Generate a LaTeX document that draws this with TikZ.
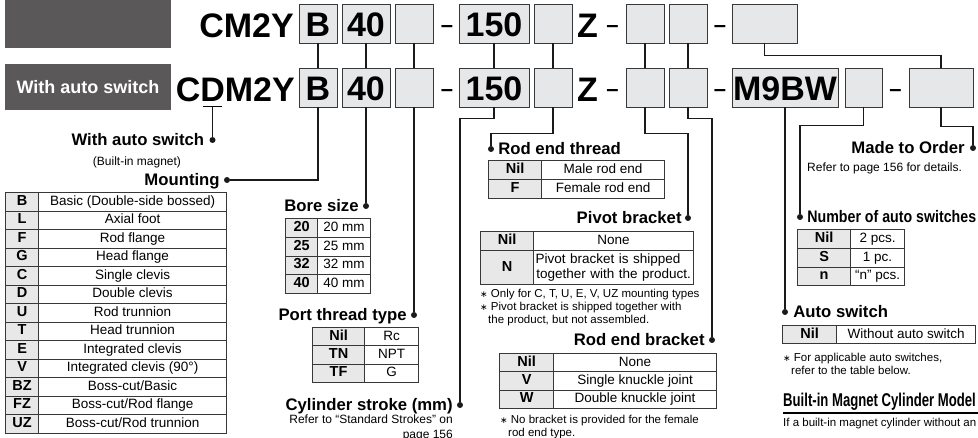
\documentclass[tikz,border=0pt]{standalone}
\usepackage{fontspec}
\setmainfont{Liberation Sans}
\newfontfamily\slimfont[FakeStretch=0.85]{Liberation Sans}
\newfontfamily\slimmerfont[FakeStretch=0.71]{Liberation Sans}
\newfontfamily\dvfont{DejaVu Sans}
\usetikzlibrary{positioning, matrix}
\definecolor{Ink}{HTML}{1A1A1A}
\definecolor{Frame}{HTML}{383838}
\definecolor{BoxFill}{HTML}{E6E7E8}
\definecolor{KeyFill}{HTML}{E8E8E8}
\definecolor{Banner}{HTML}{5A5859}
\newcommand\codefont{\fontsize{34}{36}\selectfont\bfseries}
\newcommand\bannerfont{\fontsize{18}{20}\selectfont\bfseries}
\newcommand\headfont{\fontsize{16.7}{19}\selectfont\bfseries}
\newcommand\modelfont{\fontsize{18.5}{20}\selectfont\bfseries}
\newcommand\keyfont{\fontsize{14.5}{16}\selectfont\bfseries}
\newcommand\cellfont{\fontsize{13.5}{15.5}\selectfont}
\newcommand\sidefont{\fontsize{12}{15}\selectfont}
\newcommand\notefont{\fontsize{11.5}{13}\selectfont}
\newcommand\notemark{{\dvfont\fontsize{9}{9}\selectfont ∗}}
\tikzset{
    banner/.style={fill=Banner, inner sep=0pt, text=white, font=\bannerfont},
    codebox/.style={draw=Frame, fill=BoxFill, line width=0.9pt, inner sep=0pt, minimum height=39pt, font=\codefont, text height=27pt, text depth=0pt},
    codetext/.style={font=\codefont, inner sep=0pt, anchor=base},
    dashmark/.style={font=\fontsize{22}{22}\selectfont\bfseries, inner sep=0pt},
    wire/.style={draw=Ink, line width=1.1pt},
    dot/.style={circle, fill=Ink, inner sep=0pt, minimum size=6pt},
    head/.style={font=\headfont, inner sep=0pt, text height=12pt, text depth=0pt},
    note/.style={font=\notefont, inner sep=0pt, align=left},
    codetable/.style n args={3}{matrix of nodes, inner sep=0pt, row sep=-0.8pt, column sep=-0.8pt,
        nodes={draw=Frame, line width=0.8pt, inner sep=0pt, minimum height=#3, text height=10pt, text depth=3pt, anchor=center},
        column 1/.style={nodes={fill=KeyFill, font=\keyfont, minimum width=#1}},
        column 2/.style={nodes={fill=white, font=\cellfont, minimum width=#2}}},
}

\begin{document}
\begin{tikzpicture}[x=1pt, y=-1pt]
    \useasboundingbox (0,0) rectangle (978,438);
    \clip (0,0) rectangle (978,438);

    % --- Banners ---
    \node[banner, minimum width=166pt, minimum height=48pt] (plain) at (88,24) {};
    \node[banner, minimum width=166pt, minimum height=46pt] (tag) at (88,87) {With auto switch};

    % --- Upper model code ---
    \node[codetext, anchor=base east] (cm2y) at (294,38) {CM2Y};
    \node[codebox, minimum width=38pt] (uB) at (318,23.5) {B};
    \node[codebox, minimum width=48pt] (uBore) at (366,23.5) {40};
    \node[codebox, minimum width=38pt] (uPort) at (414,23.5) {};
    \node[dashmark] (uDashA) at (447,29) {–};
    \node[codebox, minimum width=70pt] (uStroke) at (494,23.5) {150};
    \node[codebox, minimum width=38pt] (uThread) at (553,23.5) {};
    \node[codetext] (uZ) at (587.5,38) {Z};
    \node[dashmark] (uDashB) at (612.5,29) {–};
    \node[codebox, minimum width=38pt] (uPivot) at (645,23.5) {};
    \node[codebox, minimum width=38pt] (uBracket) at (688,23.5) {};
    \node[dashmark] (uDashC) at (720,29) {–};
    \node[codebox, minimum width=65pt] (uOrder) at (764.5,23.5) {};

    % --- Lower model code ---
    \node[codetext, anchor=base east] (cdm2y) at (295,102) {CDM2Y};
    \node[codebox, minimum width=38pt] (lB) at (318,87.5) {B};
    \node[codebox, minimum width=48pt] (lBore) at (366,87.5) {40};
    \node[codebox, minimum width=38pt] (lPort) at (414,87.5) {};
    \node[dashmark] (lDashA) at (447,93) {–};
    \node[codebox, minimum width=70pt] (lStroke) at (494,87.5) {150};
    \node[codebox, minimum width=38pt] (lThread) at (553,87.5) {};
    \node[codetext] (lZ) at (587.5,102) {Z};
    \node[dashmark] (lDashB) at (612.5,93) {–};
    \node[codebox, minimum width=38pt] (lPivot) at (645,87.5) {};
    \node[codebox, minimum width=38pt] (lBracket) at (688,87.5) {};
    \node[dashmark] (lDashC) at (720,93) {–};
    \node[codebox, minimum width=106pt] (lSwitch) at (785,87.5) {M9BW};
    \node[codebox, minimum width=37pt] (lNum) at (863.5,87.5) {};
    \node[dashmark] (lDashD) at (895.5,93) {–};
    \node[codebox, minimum width=64pt] (lOrder) at (941,87.5) {};

    % Links between the two codes
    \draw[wire] (uB.south) -- (lB.north);
    \draw[wire] (uBore.south) -- (lBore.north);
    \draw[wire] (uPort.south) -- (lPort.north);
    \draw[wire] (uStroke.south) -- (lStroke.north);
    \draw[wire] (uThread.south) -- (lThread.north);
    \draw[wire] (uPivot.south) -- (lPivot.north);
    \draw[wire] (uBracket.south) -- (lBracket.north);
    \draw[wire] (uOrder.south) -- ++(0,12) -| (lOrder.north);

    % --- With auto switch ---
    \coordinate (dmark) at (212.5,107);
    \draw[line width=1pt] ([xshift=-9.5pt]dmark) -- ([xshift=9.5pt]dmark);
    \node[dot] (dAuto) at (212.5,140) {};
    \node[head, left=5pt of dAuto] (hAuto) {With auto switch};
    \node[note, font=\sidefont, anchor=base] (nAuto) at (137,166) {(Built-in magnet)};
    \draw[wire] (dmark) -- (dAuto);

    % --- Mounting ---
    \node[dot] (dMount) at (227,180) {};
    \node[head, left=4pt of dMount] (hMount) {Mounting};
    \draw[wire] (lB.south) |- (dMount);
    \matrix[codetable={33pt}{188pt}{18.5pt}, anchor=north west] (mountTab) at (5,192) {
        B & Basic (Double-side bossed)\\
        L & Axial foot\\
        F & Rod flange\\
        G & Head flange\\
        C & Single clevis\\
        D & Double clevis\\
        U & Rod trunnion\\
        T & Head trunnion\\
        E & Integrated clevis\\
        V & Integrated clevis (90°)\\
        BZ & Boss-cut/Basic\\
        FZ & Boss-cut/Rod flange\\
        UZ & Boss-cut/Rod trunnion\\
    };

    % --- Bore size ---
    \node[dot] (dBore) at (366,206) {};
    \node[head, left=4pt of dBore] (hBore) {Bore size};
    \draw[wire] (lBore.south) -- (dBore);
    \matrix[codetable={32pt}{53pt}{18.75pt}, anchor=north west] (boreTab) at (285,218) {
        20 & 20 mm\\
        25 & 25 mm\\
        32 & 32 mm\\
        40 & 40 mm\\
    };

    % --- Port thread type ---
    \node[dot] (dPort) at (414,315) {};
    \node[head, left=4pt of dPort] (hPort) {Port thread type};
    \draw[wire] (lPort.south) -- (dPort);
    \matrix[codetable={52pt}{54pt}{18.3pt}, anchor=north west] (portTab) at (312,327) {
        Nil & Rc\\
        TN & NPT\\
        TF & G\\
    };

    % --- Cylinder stroke ---
    \node[dot] (dStroke) at (460,405) {};
    \node[head, left=4pt of dStroke] (hStroke) {Cylinder stroke (mm)};
    \draw[wire] (lStroke.south) -- ++(0,11) -| (dStroke);
    \node[note, font=\sidefont, align=right, anchor=north east] (nStroke) at (453,415) {Refer to “Standard Strokes” on\\page 156};

    % --- Rod end thread ---
    \node[dot] (dThread) at (491,149) {};
    \node[head, right=4pt of dThread] (hThread) {Rod end thread};
    \draw[wire] (lThread.south) -- ++(0,26) -| (dThread);
    \matrix[codetable={53pt}{123pt}{19pt}, anchor=north west] (threadTab) at (488,160) {
        Nil & Male rod end\\
        F & Female rod end\\
    };

    % --- Pivot bracket ---
    \node[dot] (dPivot) at (688,218) {};
    \node[head, left=3pt of dPivot] (hPivot) {Pivot bracket};
    \draw[wire] (lPivot.south) -- ++(0,26) -| (dPivot);
    \matrix[codetable={53pt}{160pt}{19pt}, row 2/.style={nodes={minimum height=34pt}}, anchor=north west] (pivotTab) at (480,231) {
        Nil & None\\
        N & |[text width=156pt, align=center, text depth=18.5pt]| Pivot bracket is shipped\newline together with the product.\\
    };
    \node[note, anchor=north west] (nPivot) at (480,289) {\notemark\ Only for C, T, U, E, V, UZ mounting types\\\notemark\ Pivot bracket is shipped together with\\\hspace*{8pt}the product, but not assembled.};

    % --- Rod end bracket ---
    \node[dot] (dBracket) at (712,340) {};
    \node[head, left=4pt of dBracket] (hBracket) {Rod end bracket};
    \draw[wire] (lBracket.south) -- ++(0,11) -| (dBracket);
    \matrix[codetable={54pt}{163pt}{18.3pt}, anchor=north west] (bracketTab) at (499,353) {
        Nil & None\\
        V & Single knuckle joint\\
        W & Double knuckle joint\\
    };
    \node[note, anchor=north west] (nBracket) at (500,415) {\notemark\ No bracket is provided for the female\\\hspace*{8pt}rod end type.};

    % --- Made to Order ---
    \node[dot] (dOrder) at (973,148) {};
    \node[head, left=5pt of dOrder] (hOrder) {Made to Order};
    \draw[wire] (lOrder.south) -- ++(0,19) -| (dOrder);
    \node[note, font=\sidefont, anchor=base west] (nOrder) at (807,172) {Refer to page 156 for details.};

    % --- Number of auto switches ---
    \node[dot] (dNum) at (800,217) {};
    \node[head, font=\slimfont\headfont, right=4pt of dNum] (hNum) {Number of auto switches};
    \draw[wire] (lNum.south) -- ++(0,18) -| (dNum);
    \matrix[codetable={53pt}{54pt}{18.7pt}, anchor=north west] (numTab) at (797,229) {
        Nil & 2 pcs.\\
        S & 1 pc.\\
        n & “n” pcs.\\
    };

    % --- Auto switch ---
    \node[dot] (dSwitch) at (785,312) {};
    \node[head, right=5pt of dSwitch] (hSwitch) {Auto switch};
    \draw[wire] (lSwitch.south) -- (dSwitch);
    \matrix[codetable={54pt}{139pt}{18pt}, anchor=north west] (switchTab) at (782,325) {
        Nil & Without auto switch\\
    };
    \node[note, anchor=north west] (nSwitch) at (783,353) {\notemark\ For applicable auto switches,\\\hspace*{8pt}refer to the table below.};

    % --- Built-in magnet model ---
    \node[inner sep=0pt, font=\slimmerfont\modelfont, anchor=base west] (hModel) at (783,407) {Built-in Magnet Cylinder Model};
    \draw[line width=1.3pt] ([yshift=-6pt]hModel.base west) -- ++(195,0);
    \node[inner sep=0pt, font=\notefont, anchor=base west] (pModel) at (783,427) {If a built-in magnet cylinder without an};
\end{tikzpicture}
\end{document}
